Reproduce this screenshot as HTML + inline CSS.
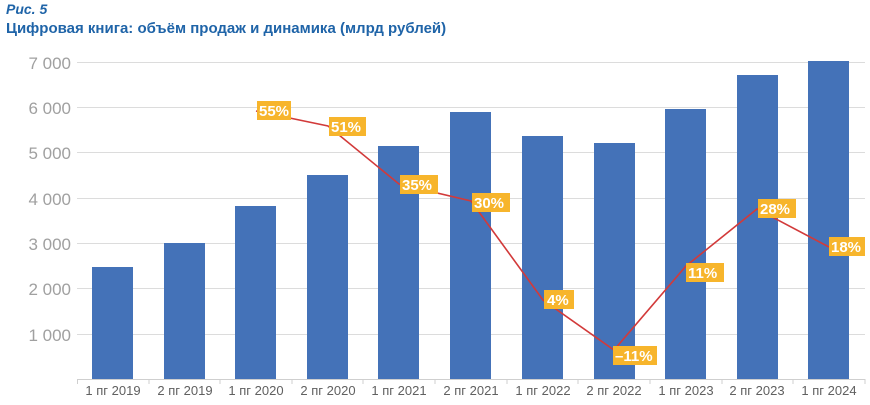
<!DOCTYPE html>
<html><head><meta charset="utf-8"><style>
body{margin:0;background:#fff;width:870px;height:400px;overflow:hidden;font-family:"Liberation Sans",sans-serif}
</style></head><body>
<svg width="870" height="400" xmlns="http://www.w3.org/2000/svg" font-family="Liberation Sans, sans-serif">
<text x="6" y="14" font-size="14" font-weight="bold" font-style="italic" fill="#1f64a8">Рис. 5</text>
<text x="6" y="33" font-size="15" font-weight="bold" fill="#1f64a8">Цифровая книга: объём продаж и динамика (млрд рублей)</text>
<g stroke="#dcdcdc" stroke-width="1">
<line x1="77" x2="865" y1="62.5" y2="62.5"/><line x1="77" x2="865" y1="107.5" y2="107.5"/><line x1="77" x2="865" y1="152.5" y2="152.5"/><line x1="77" x2="865" y1="198.5" y2="198.5"/><line x1="77" x2="865" y1="243.5" y2="243.5"/><line x1="77" x2="865" y1="288.5" y2="288.5"/><line x1="77" x2="865" y1="334.5" y2="334.5"/>
</g>
<g font-size="17" fill="#a0a0a0" text-anchor="end">
<text x="71" y="69">7 000</text><text x="71" y="114">6 000</text><text x="71" y="159">5 000</text><text x="71" y="205">4 000</text><text x="71" y="250">3 000</text><text x="71" y="295">2 000</text><text x="71" y="341">1 000</text>
</g>
<g fill="#4472b8">
<rect x="92" y="267" width="41" height="112"/>
<rect x="164" y="243" width="41" height="136"/>
<rect x="235" y="206" width="41" height="173"/>
<rect x="307" y="175" width="41" height="204"/>
<rect x="378" y="146" width="41" height="233"/>
<rect x="450" y="112" width="41" height="267"/>
<rect x="522" y="136" width="41" height="243"/>
<rect x="594" y="143" width="41" height="236"/>
<rect x="665" y="109" width="41" height="270"/>
<rect x="737" y="75" width="41" height="304"/>
<rect x="808" y="61" width="41" height="318"/>
</g>
<line x1="77" x2="865" y1="379.5" y2="379.5" stroke="#cfcfcf"/>
<g stroke="#cfcfcf"><line x1="77.5" x2="77.5" y1="379" y2="384"/><line x1="149" x2="149" y1="379" y2="384"/><line x1="220" x2="220" y1="379" y2="384"/><line x1="292" x2="292" y1="379" y2="384"/><line x1="363" x2="363" y1="379" y2="384"/><line x1="435" x2="435" y1="379" y2="384"/><line x1="507" x2="507" y1="379" y2="384"/><line x1="578" x2="578" y1="379" y2="384"/><line x1="650" x2="650" y1="379" y2="384"/><line x1="722" x2="722" y1="379" y2="384"/><line x1="793" x2="793" y1="379" y2="384"/><line x1="865" x2="865" y1="379" y2="384"/></g>
<g font-size="13" fill="#606060" text-anchor="middle">
<text x="113" y="395">1 пг 2019</text><text x="185" y="395">2 пг 2019</text><text x="256" y="395">1 пг 2020</text><text x="328" y="395">2 пг 2020</text><text x="399" y="395">1 пг 2021</text><text x="471" y="395">2 пг 2021</text><text x="543" y="395">1 пг 2022</text><text x="614" y="395">2 пг 2022</text><text x="686" y="395">1 пг 2023</text><text x="757" y="395">2 пг 2023</text><text x="829" y="395">1 пг 2024</text>
</g>
<polyline fill="none" stroke="#d23a3a" stroke-width="1.6" points="256,111 328,126 399,184 471,201 543,300 614,350 686,266 757,209 829,247"/>
<g fill="#f7b52c">
<rect x="257" y="101" width="34" height="19"/>
<rect x="329" y="117" width="37" height="19"/>
<rect x="400" y="175" width="38" height="19"/>
<rect x="472" y="193" width="38" height="19"/>
<rect x="544" y="290" width="30" height="19"/>
<rect x="613" y="346" width="44" height="19"/>
<rect x="686" y="263" width="38" height="19"/>
<rect x="758" y="199" width="38" height="19"/>
<rect x="829" y="237" width="36" height="19"/>
</g>
<g font-size="15" font-weight="bold" fill="#fff">
<text x="259" y="116">55%</text><text x="331" y="132">51%</text><text x="402" y="190">35%</text><text x="474" y="208">30%</text><text x="547" y="305">4%</text><text x="615" y="361">–11%</text><text x="688" y="278">11%</text><text x="760" y="214">28%</text><text x="831" y="252">18%</text>
</g>
</svg>
</body></html>
